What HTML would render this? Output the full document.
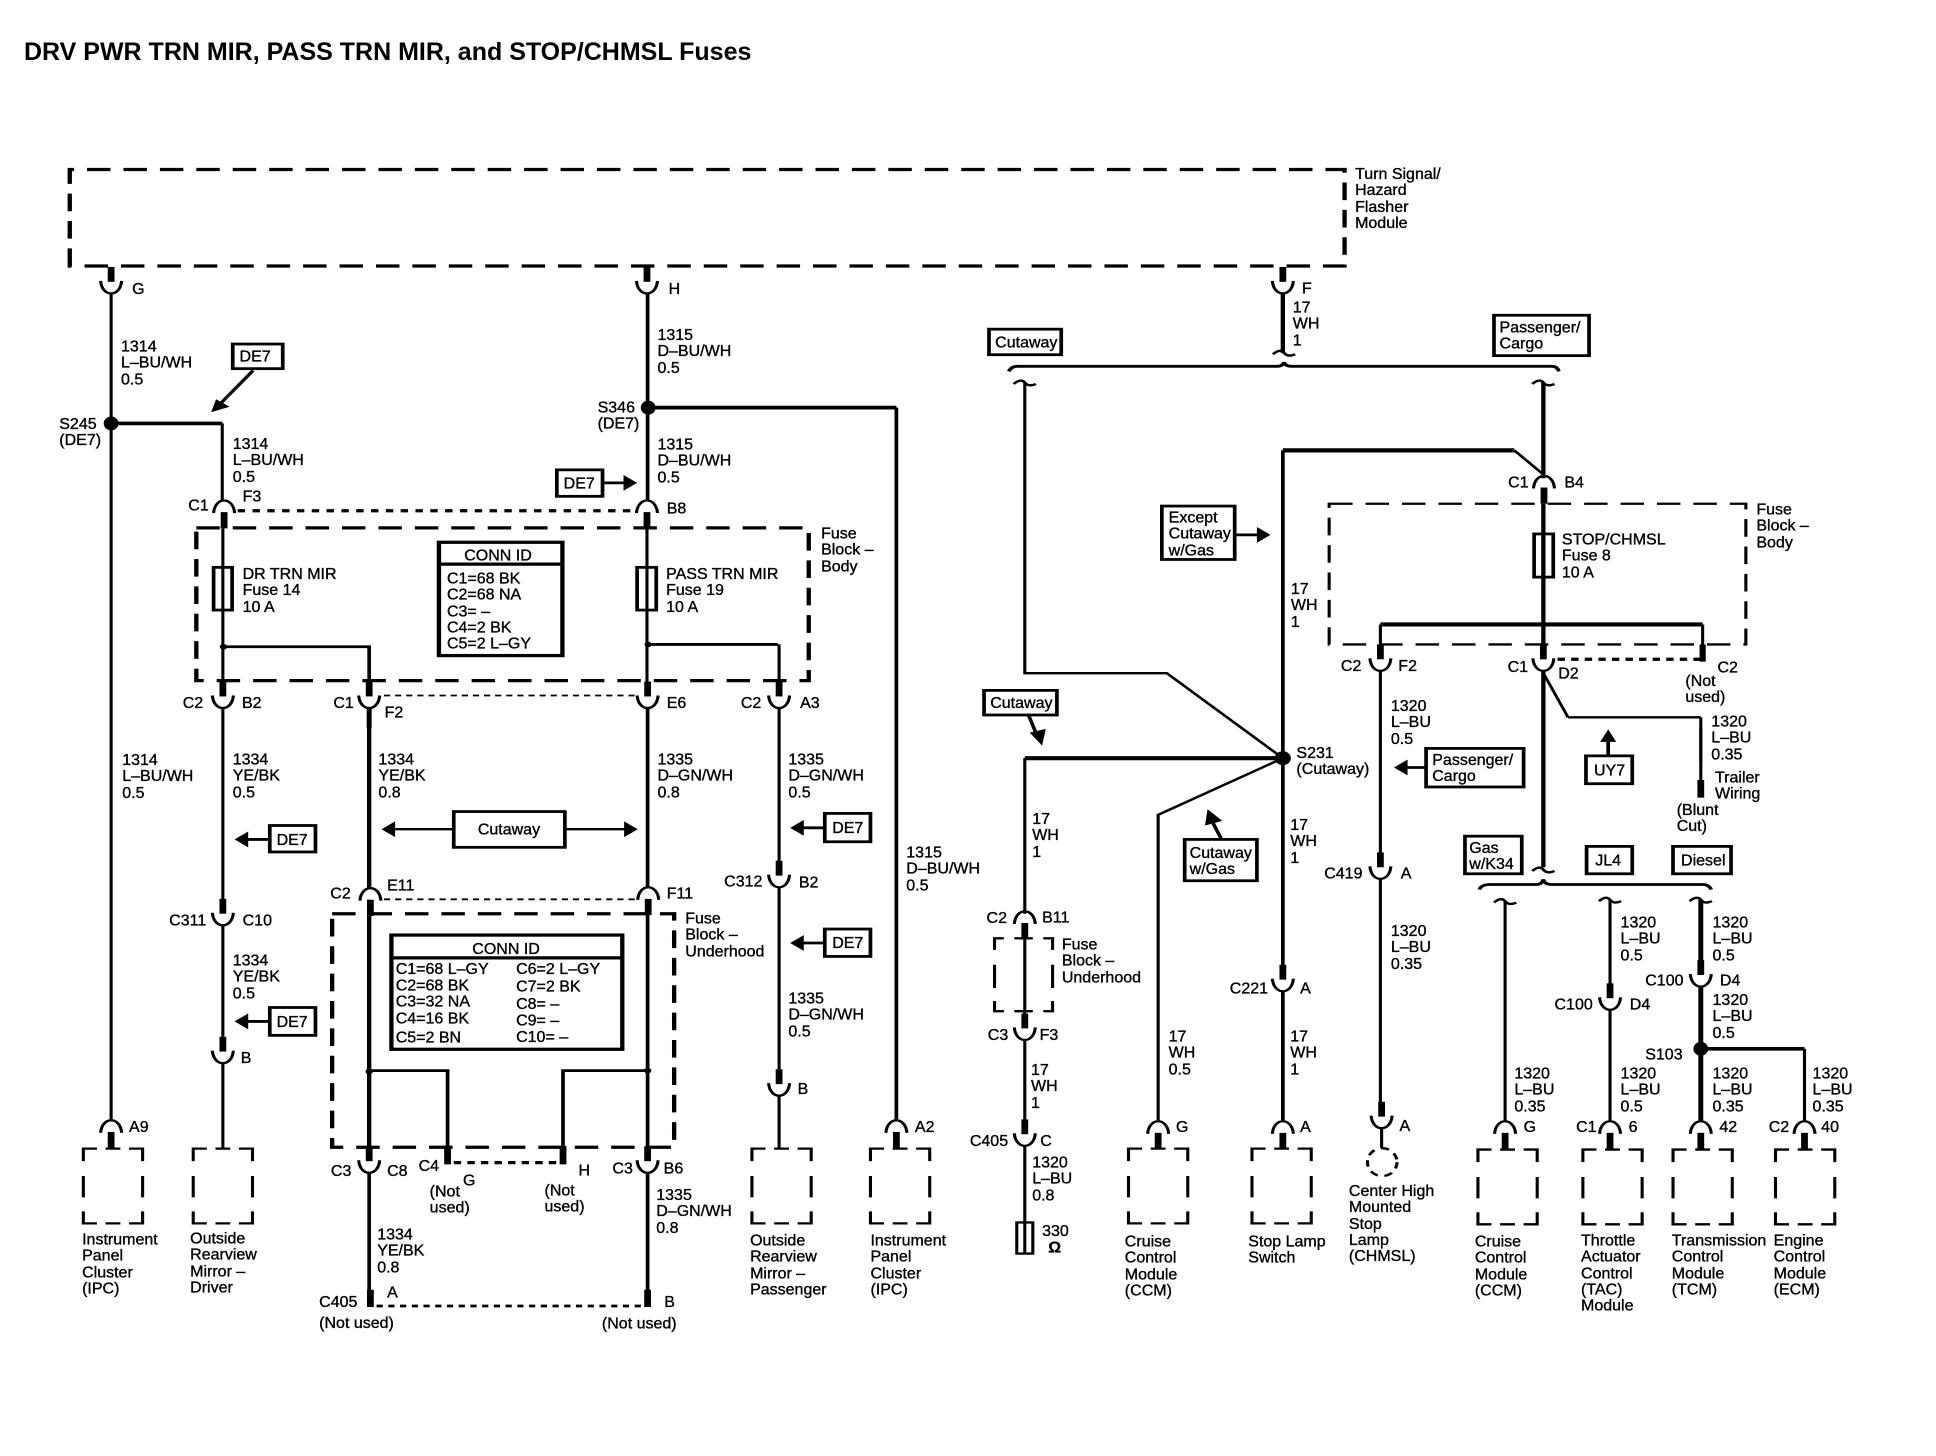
<!DOCTYPE html>
<html><head><meta charset="utf-8"><title>DRV PWR TRN MIR, PASS TRN MIR, and STOP/CHMSL Fuses</title>
<style>
html,body{margin:0;padding:0;background:#fff;width:1936px;height:1456px;overflow:hidden}
svg{position:absolute;left:0;top:0}
#t{position:absolute;left:0;top:0;width:3136px;height:3136px;transform:scale(.61735,.46429);transform-origin:0 0}
.q{position:absolute;width:1568px;height:1568px}
p{position:absolute;margin:-14.5px 0 0 0;font:16px/16.25px "Liberation Sans",sans-serif;white-space:nowrap;transform:scale(1.6198,2.1538);transform-origin:0 0;color:#000;-webkit-text-stroke:.35px #000}
#title{position:absolute;left:24px;top:38px;font:bold 25px/28px "Liberation Sans",sans-serif;white-space:nowrap;color:#000}
</style></head><body>
<svg width="1936" height="1456" viewBox="0 0 3136 3136" preserveAspectRatio="none" fill="none" stroke="#000" stroke-width="5">
<defs>
<g id="u"><path d="M-17-27C-16-9-8 0 0 0 8 0 16-9 17-27" stroke-width="5"/><path d="M0-57V-25" stroke-width="11"/></g>
<g id="n"><path d="M-17 27C-16 9-8 0 0 0 8 0 16 9 17 27" stroke-width="5"/><path d="M0 25V60" stroke-width="11"/></g>
<path id="m" d="M0 28V1H22M36 1H60M74 1H96V28M96 60V106M96 136V162H74M60 162H36M22 162H0V136M0 106V60" stroke-width="5"/>
<path id="c" d="M-18 3Q-6-10 0 0 6 10 18 3" stroke-width="5"/>
<path id="ar" d="M0 0L-22-17V17Z" fill="#000" stroke="none"/>
<path id="al" d="M0 0L22-17V17Z" fill="#000" stroke="none"/>
</defs>
<!-- Q1 -->
<g>
<path d="M113 573V365H2178V573H113Z" stroke-width="7" stroke-dasharray="38 21"/>
<rect x="318" y="1137" width="992" height="329" stroke-width="7" stroke-dasharray="38 21"/>
<use href="#u" x="180" y="632"/><use href="#u" x="1048" y="632"/>
<use href="#n" x="363" y="1078"/><use href="#n" x="1048" y="1078"/>
<use href="#u" x="361" y="1525"/><use href="#u" x="598" y="1525"/><use href="#u" x="1049" y="1525"/><use href="#u" x="1262" y="1525"/>
<path d="M180 632V1568M360 912V1078M361 1138V1500M1048 1138V1500M361 1525V1568M1262 1388V1480M1262 1525V1568" stroke-width="5"/>
<path d="M1049 632V1078M1049 1525V1568M1452 878V1568M362 1393H598V1470M1050 1388H1260" stroke-width="6"/>
<path d="M180 912H360M1050 878H1452M598 1525V1568" stroke-width="8"/>
<ellipse cx="180" cy="912" rx="12" ry="15" fill="#000" stroke="none"/><ellipse cx="1050" cy="878" rx="12" ry="15" fill="#000" stroke="none"/>
<circle cx="362" cy="1393" r="6" fill="#000" stroke="none"/><circle cx="1050" cy="1388" r="6" fill="#000" stroke="none"/>
<path d="M385 1100H1030" stroke-width="7" stroke-dasharray="12 12"/>
<path d="M622 1498H1030" stroke-width="4" stroke-dasharray="10 8"/>
<rect x="346" y="1222" width="30" height="92" stroke-width="6"/><rect x="1032" y="1222" width="31" height="92" stroke-width="6"/>
<rect x="711" y="1168" width="200" height="244" stroke-width="7"/><path d="M711 1215H911" stroke-width="7"/>
<rect x="377" y="741" width="81" height="53" stroke-width="6"/><path d="M410 798L352 876" stroke-width="6"/><path d="M342 888L350 860 372 876Z" fill="#000" stroke="none"/>
<rect x="902" y="1012" width="74" height="57" stroke-width="6"/><path d="M976 1040H1012" stroke-width="6"/><use href="#ar" x="1032" y="1040"/>
</g>
<!-- Q2 -->
<g transform="translate(1568 0)">
<use href="#u" x="510" y="632"/>
<path d="M510 632V760" stroke-width="7"/>
<use href="#c" x="512" y="760"/>
<path d="M66 800Q70 789 80 789H500Q510 789 512 780 514 789 525 789H945Q955 789 957 800" stroke-width="6"/>
<use href="#c" x="92" y="824"/><use href="#c" x="932" y="824"/>
<rect x="34" y="709" width="117" height="55" stroke-width="6"/>
<rect x="852" y="679" width="154" height="87" stroke-width="6"/>
<path d="M92 824V1450H322L510 1633" stroke-width="5"/>
<path d="M932 824V1030M932 1085V1420" stroke-width="7"/>
<path d="M510 970H885" stroke-width="9"/><path d="M510 970V1568" stroke-width="6"/><path d="M885 970L932 1022" stroke-width="5"/>
<use href="#n" x="933" y="1025"/>
<rect x="585" y="1085" width="675" height="303" stroke-width="5" stroke-dasharray="38 21"/>
<rect x="917" y="1150" width="31" height="93" stroke-width="6"/>
<path d="M668 1345H1190" stroke-width="9"/>
<path d="M668 1345V1390M1190 1345V1390M668 1445V1568M972 1545H1187" stroke-width="5"/>
<path d="M1190 1388V1425" stroke-width="10"/>
<use href="#u" x="668" y="1445"/><use href="#u" x="932" y="1445"/>
<path d="M955 1420H1190" stroke-width="7" stroke-dasharray="12 10"/>
<path d="M932 1445V1568" stroke-width="7"/>
<path d="M932 1450L972 1545M1187 1545V1640" stroke-width="5"/>
<rect x="314" y="1090" width="118" height="115" stroke-width="6"/><path d="M432 1152H470" stroke-width="6"/><use href="#ar" x="490" y="1152"/>
<rect x="26" y="1487" width="118" height="53" stroke-width="6"/><path d="M98 1540L112 1585" stroke-width="6"/><path d="M120 1606L100 1578 126 1570Z" fill="#000" stroke="none"/>
</g>
<!-- Q3 -->
<g transform="translate(0 1568)">
<path d="M180 0V845M361 0V370M361 425V665M361 722V905M1262 0V290M1262 343V735M1262 792V905" stroke-width="5"/>
<path d="M1452 0V845" stroke-width="6"/>
<path d="M598 0V345M598 370V930" stroke-width="7"/><path d="M1049 0V345M1049 370V930M598 958V1245M1049 958V1245" stroke-width="6"/>
<use href="#n" x="180" y="845"/><use href="#n" x="1452" y="845"/><use href="#n" x="600" y="345"/><use href="#n" x="1050" y="343"/>
<use href="#u" x="361" y="425"/><use href="#u" x="361" y="722"/><use href="#u" x="1262" y="343"/><use href="#u" x="1262" y="792"/><use href="#u" x="598" y="958"/><use href="#u" x="1049" y="958"/>
<use href="#m" x="135" y="905"/><use href="#m" x="313" y="905"/><use href="#m" x="1218" y="905"/><use href="#m" x="1410" y="905"/>
<rect x="437" y="210" width="74" height="57" stroke-width="6"/><path d="M437 240H400" stroke-width="6"/><use href="#al" x="380" y="240"/>
<rect x="437" y="602" width="74" height="60" stroke-width="6"/><path d="M437 632H400" stroke-width="6"/><use href="#al" x="380" y="632"/>
<rect x="735" y="180" width="180" height="77" stroke-width="6"/><path d="M735 218H640M915 218H1012" stroke-width="5"/><use href="#al" x="618" y="218"/><use href="#ar" x="1033" y="218"/>
<rect x="1336" y="184" width="74" height="61" stroke-width="6"/><path d="M1336 215H1300" stroke-width="6"/><use href="#al" x="1280" y="215"/>
<rect x="1336" y="433" width="74" height="59" stroke-width="6"/><path d="M1336 463H1300" stroke-width="6"/><use href="#al" x="1280" y="463"/>
<path d="M622 369H1030" stroke-width="4" stroke-dasharray="10 8"/>
<rect x="538" y="400" width="554" height="503" stroke-width="7" stroke-dasharray="38 21"/>
<rect x="634" y="446" width="374" height="246" stroke-width="7"/><path d="M634 495H1008" stroke-width="7"/>
<path d="M598 738H725V900M912 900V738H1049" stroke-width="6"/>
<circle cx="598" cy="740" r="6" fill="#000" stroke="none"/><circle cx="1049" cy="738" r="6" fill="#000" stroke="none"/>
<path d="M725 900V940M912 900V940M600 1210V1247M1049 1210V1247" stroke-width="11"/>
<path d="M735 936H905" stroke-width="7" stroke-dasharray="12 10"/>
<path d="M610 1245H1040" stroke-width="6" stroke-dasharray="10 9"/>
</g>
<!-- Q4 -->
<g transform="translate(1568 1568)">
<path d="M92 65H510" stroke-width="9"/>
<ellipse cx="510" cy="65" rx="13" ry="15" fill="#000" stroke="none"/>
<path d="M92 65V400M92 455V640M92 672V845M92 900V1132M510 65L308 187V845M668 0V270M668 325V810M870 373V845M1040 370V560M1040 607V845M1355 691V845M670 862V905" stroke-width="5"/>
<path d="M510 0V515M510 567V845" stroke-width="6"/>
<path d="M932 0V300" stroke-width="7"/>
<path d="M1187 0V112" stroke-width="5"/><path d="M1187 112V150" stroke-width="11"/>
<use href="#n" x="92" y="395"/><use href="#u" x="92" y="672"/><use href="#u" x="92" y="900"/>
<path d="M43 478V453H58M75 453H105M122 453H137V478M137 510V560M137 588V610H122M105 610H75M58 610H43V588M43 560V510" stroke-width="5"/>
<rect x="79" y="1065" width="26" height="67" stroke-width="5"/>
<use href="#n" x="308" y="847"/><use href="#m" x="260" y="905"/>
<use href="#u" x="510" y="567"/><use href="#n" x="510" y="847"/><use href="#m" x="460" y="905"/>
<rect x="351" y="240" width="117" height="89" stroke-width="6"/><path d="M410 238L397 205" stroke-width="6"/><path d="M388 175L384 210 412 200Z" fill="#000" stroke="none"/>
<use href="#u" x="668" y="325"/><use href="#u" x="670" y="862"/>
<ellipse cx="671" cy="935" rx="24" ry="30" stroke-width="5" stroke-dasharray="14 11"/>
<rect x="742" y="44" width="158" height="83" stroke-width="6"/><path d="M742 85H710" stroke-width="6"/><use href="#al" x="690" y="85"/>
<rect x="1001" y="60" width="75" height="60" stroke-width="6"/><path d="M1037 60V30" stroke-width="6"/><path d="M1037 3L1024 30H1050Z" fill="#000" stroke="none"/>
<rect x="805" y="233" width="92" height="81" stroke-width="6"/><rect x="1002" y="255" width="74" height="59" stroke-width="6"/><rect x="1142" y="255" width="94" height="59" stroke-width="6"/>
<use href="#c" x="932" y="305"/>
<path d="M828 348Q832 337 845 337H920Q930 337 932 326 934 337 945 337H1190Q1200 337 1204 348" stroke-width="6"/>
<use href="#c" x="870" y="373"/><use href="#c" x="1040" y="370"/><use href="#c" x="1187" y="370"/>
<use href="#u" x="1040" y="607"/><use href="#u" x="1187" y="557"/>
<path d="M1187 370V530M1187 557V845M1187 691H1355" stroke-width="8"/>
<ellipse cx="1187" cy="691" rx="12" ry="15" fill="#000" stroke="none"/>
<use href="#n" x="870" y="847"/><use href="#n" x="1040" y="847"/><use href="#n" x="1187" y="847"/><use href="#n" x="1355" y="847"/>
<use href="#m" x="826" y="907"/><use href="#m" x="996" y="907"/><use href="#m" x="1142" y="907"/><use href="#m" x="1308" y="907"/>
</g>
</svg>
<div id="title">DRV PWR TRN MIR, PASS TRN MIR, and STOP/CHMSL Fuses</div>
<div id="t">
<div class="q" style="left:0;top:0">
<p style="left:214px;top:621px">G</p><p style="left:1083px;top:621px">H</p>
<p style="left:196px;top:745px">1314<br>L–BU/WH<br>0.5</p>
<p style="left:388px;top:767px">DE7</p>
<p style="left:1065px;top:720px">1315<br>D–BU/WH<br>0.5</p>
<p style="left:96px;top:912px">S245<br>(DE7)</p>
<p style="left:968px;top:877px">S346<br>(DE7)</p>
<p style="left:377px;top:955px">1314<br>L–BU/WH<br>0.5</p>
<p style="left:1065px;top:956px">1315<br>D–BU/WH<br>0.5</p>
<p style="left:913px;top:1040px">DE7</p>
<p style="left:305px;top:1088px">C1</p><p style="left:393px;top:1068px">F3</p><p style="left:1080px;top:1094px">B8</p>
<p style="left:1330px;top:1148px">Fuse<br>Block –<br>Body</p>
<p style="left:393px;top:1235px">DR TRN MIR<br>Fuse 14<br>10 A</p>
<p style="left:1079px;top:1235px">PASS TRN MIR<br>Fuse 19<br>10 A</p>
<p style="left:752px;top:1195px">CONN ID</p>
<p style="left:724px;top:1245px">C1=68 BK<br>C2=68 NA<br>C3= –<br>C4=2 BK<br>C5=2 L–GY</p>
<p style="left:296px;top:1513px">C2</p><p style="left:392px;top:1513px">B2</p><p style="left:540px;top:1513px">C1</p><p style="left:623px;top:1533px">F2</p><p style="left:1080px;top:1513px">E6</p><p style="left:1200px;top:1513px">C2</p><p style="left:1296px;top:1513px">A3</p>
</div>
<div class="q" style="left:1568px;top:0">
<p style="left:627px;top:374px">Turn Signal/<br>Hazard<br>Flasher<br>Module</p>
<p style="left:541px;top:620px">F</p>
<p style="left:526px;top:661px">17<br>WH<br>1</p>
<p style="left:44px;top:737px">Cutaway</p>
<p style="left:861px;top:704px">Passenger/<br>Cargo</p>
<p style="left:875px;top:1038px">C1</p><p style="left:966px;top:1038px">B4</p>
<p style="left:962px;top:1161px">STOP/CHMSL<br>Fuse 8<br>10 A</p>
<p style="left:1277px;top:1096px">Fuse<br>Block –<br>Body</p>
<p style="left:325px;top:1114px">Except<br>Cutaway<br>w/Gas</p>
<p style="left:523px;top:1268px">17<br>WH<br>1</p>
<p style="left:604px;top:1433px">C2</p><p style="left:697px;top:1433px">F2</p><p style="left:874px;top:1435px">C1</p><p style="left:956px;top:1450px">D2</p><p style="left:1214px;top:1437px">C2</p>
<p style="left:1162px;top:1466px">(Not<br>used)</p>
<p style="left:36px;top:1513px">Cutaway</p>
<p style="left:685px;top:1519px">1320<br>L–BU<br>0.5</p>
<p style="left:1204px;top:1553px">1320<br>L–BU<br>0.35</p>
</div>
<div class="q" style="left:0;top:1568px">
<p style="left:198px;top:68px">1314<br>L–BU/WH<br>0.5</p>
<p style="left:377px;top:67px">1334<br>YE/BK<br>0.5</p>
<p style="left:613px;top:67px">1334<br>YE/BK<br>0.8</p>
<p style="left:1065px;top:67px">1335<br>D–GN/WH<br>0.8</p>
<p style="left:1277px;top:67px">1335<br>D–GN/WH<br>0.5</p>
<p style="left:1468px;top:267px">1315<br>D–BU/WH<br>0.5</p>
<p style="left:448px;top:240px">DE7</p><p style="left:448px;top:632px">DE7</p><p style="left:1348px;top:214px">DE7</p><p style="left:1348px;top:462px">DE7</p>
<p style="left:774px;top:217px">Cutaway</p>
<p style="left:535px;top:355px">C2</p><p style="left:627px;top:338px">E11</p><p style="left:1080px;top:355px">F11</p>
<p style="left:1173px;top:330px">C312</p><p style="left:1294px;top:332px">B2</p>
<p style="left:274px;top:413px">C311</p><p style="left:393px;top:413px">C10</p>
<p style="left:1110px;top:409px">Fuse<br>Block –<br>Underhood</p>
<p style="left:765px;top:475px">CONN ID</p>
<p style="left:641px;top:518px">C1=68 L–GY</p><p style="left:641px;top:553px">C2=68 BK</p><p style="left:641px;top:588px">C3=32 NA</p><p style="left:641px;top:625px">C4=16 BK</p><p style="left:641px;top:665px">C5=2 BN</p>
<p style="left:836px;top:518px">C6=2 L–GY</p><p style="left:836px;top:556px">C7=2 BK</p><p style="left:836px;top:593px">C8= –</p><p style="left:836px;top:629px">C9= –</p><p style="left:836px;top:664px">C10= –</p>
<p style="left:377px;top:500px">1334<br>YE/BK<br>0.5</p>
<p style="left:390px;top:710px">B</p><p style="left:1292px;top:776px">B</p>
<p style="left:1277px;top:582px">1335<br>D–GN/WH<br>0.5</p>
<p style="left:209px;top:858px">A9</p><p style="left:1482px;top:858px">A2</p>
<p style="left:536px;top:953px">C3</p><p style="left:627px;top:953px">C8</p><p style="left:678px;top:942px">C4</p><p style="left:750px;top:973px">G</p><p style="left:937px;top:952px">H</p><p style="left:992px;top:948px">C3</p><p style="left:1075px;top:948px">B6</p>
<p style="left:696px;top:997px">(Not<br>used)</p><p style="left:882px;top:995px">(Not<br>used)</p>
<p style="left:1063px;top:1005px">1335<br>D–GN/WH<br>0.8</p>
<p style="left:611px;top:1090px">1334<br>YE/BK<br>0.8</p>
<p style="left:133px;top:1101px">Instrument<br>Panel<br>Cluster<br>(IPC)</p>
<p style="left:308px;top:1098px">Outside<br>Rearview<br>Mirror –<br>Driver</p>
<p style="left:1215px;top:1103px">Outside<br>Rearview<br>Mirror –<br>Passenger</p>
<p style="left:1410px;top:1103px">Instrument<br>Panel<br>Cluster<br>(IPC)</p>
<p style="left:517px;top:1235px">C405</p><p style="left:627px;top:1215px">A</p><p style="left:1076px;top:1235px">B</p>
<p style="left:517px;top:1280px">(Not used)</p><p style="left:975px;top:1282px">(Not used)</p>
</div>
<div class="q" style="left:1568px;top:1568px">
<p style="left:532px;top:53px">S231<br>(Cutaway)</p>
<p style="left:752px;top:68px">Passenger/<br>Cargo</p>
<p style="left:1014px;top:90px">UY7</p>
<p style="left:1210px;top:106px">Trailer<br>Wiring</p>
<p style="left:1148px;top:175px">(Blunt<br>Cut)</p>
<p style="left:104px;top:195px">17<br>WH<br>1</p>
<p style="left:522px;top:208px">17<br>WH<br>1</p>
<p style="left:812px;top:257px">Gas<br>w/K34</p>
<p style="left:1016px;top:284px">JL4</p><p style="left:1155px;top:284px">Diesel</p>
<p style="left:359px;top:268px">Cutaway<br>w/Gas</p>
<p style="left:577px;top:312px">C419</p><p style="left:701px;top:312px">A</p>
<p style="left:30px;top:408px">C2</p><p style="left:120px;top:407px">B11</p>
<p style="left:1057px;top:418px">1320<br>L–BU<br>0.5</p><p style="left:1206px;top:418px">1320<br>L–BU<br>0.5</p>
<p style="left:685px;top:436px">1320<br>L–BU<br>0.35</p>
<p style="left:152px;top:465px">Fuse<br>Block –<br>Underhood</p>
<p style="left:1097px;top:543px">C100</p><p style="left:1218px;top:543px">D4</p>
<p style="left:424px;top:560px">C221</p><p style="left:538px;top:560px">A</p>
<p style="left:1206px;top:585px">1320<br>L–BU<br>0.5</p>
<p style="left:950px;top:594px">C100</p><p style="left:1072px;top:594px">D4</p>
<p style="left:32px;top:660px">C3</p><p style="left:116px;top:660px">F3</p>
<p style="left:325px;top:663px">17<br>WH<br>0.5</p><p style="left:522px;top:663px">17<br>WH<br>1</p>
<p style="left:1097px;top:702px">S103</p>
<p style="left:102px;top:735px">17<br>WH<br>1</p>
<p style="left:885px;top:743px">1320<br>L–BU<br>0.35</p><p style="left:1057px;top:743px">1320<br>L–BU<br>0.5</p><p style="left:1206px;top:743px">1320<br>L–BU<br>0.35</p><p style="left:1368px;top:743px">1320<br>L–BU<br>0.35</p>
<p style="left:699px;top:856px">A</p>
<p style="left:337px;top:858px">G</p><p style="left:538px;top:858px">A</p><p style="left:900px;top:858px">G</p><p style="left:985px;top:858px">C1</p><p style="left:1070px;top:858px">6</p><p style="left:1217px;top:858px">42</p><p style="left:1297px;top:858px">C2</p><p style="left:1382px;top:858px">40</p>
<p style="left:3px;top:888px">C405</p><p style="left:117px;top:888px">C</p>
<p style="left:104px;top:935px">1320<br>L–BU<br>0.8</p>
<p style="left:120px;top:1082px">330</p><p style="left:130px;top:1118px;font-weight:bold">Ω</p>
<p style="left:617px;top:996px">Center High<br>Mounted<br>Stop<br>Lamp<br>(CHMSL)</p>
<p style="left:254px;top:1105px">Cruise<br>Control<br>Module<br>(CCM)</p>
<p style="left:454px;top:1105px">Stop Lamp<br>Switch</p>
<p style="left:821px;top:1105px">Cruise<br>Control<br>Module<br>(CCM)</p>
<p style="left:993px;top:1103px">Throttle<br>Actuator<br>Control<br>(TAC)<br>Module</p>
<p style="left:1140px;top:1103px">Transmission<br>Control<br>Module<br>(TCM)</p>
<p style="left:1305px;top:1103px">Engine<br>Control<br>Module<br>(ECM)</p>
</div>
</div>
</body></html>
